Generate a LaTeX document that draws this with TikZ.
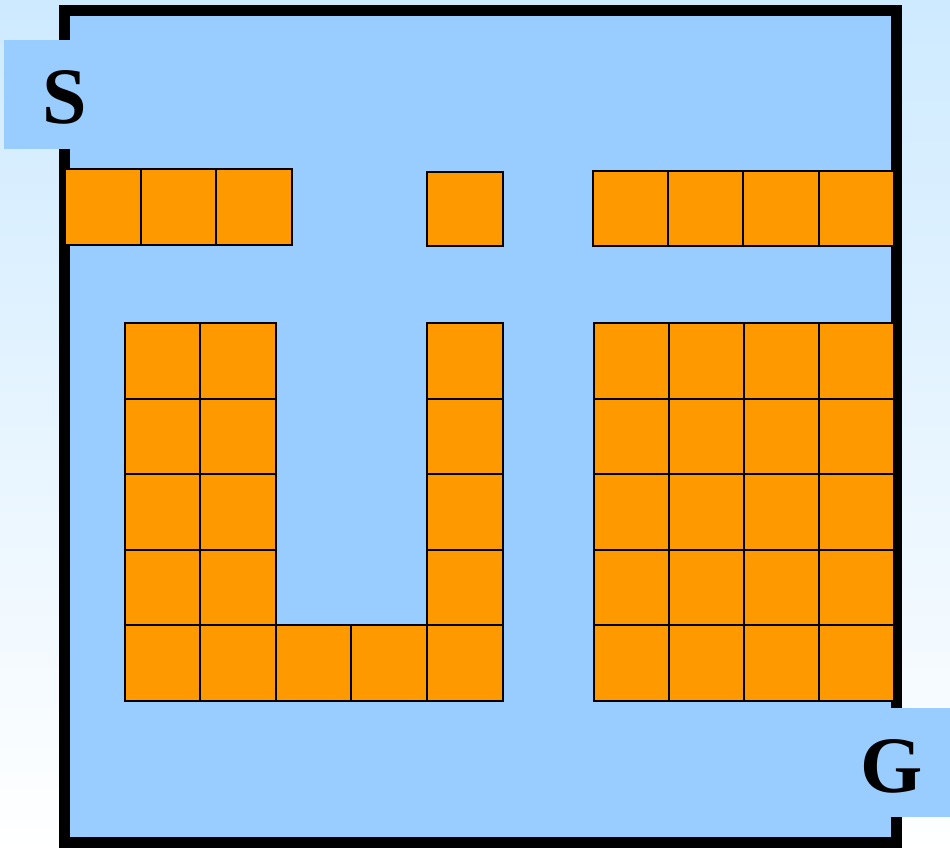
\documentclass[tikz,border=0pt]{standalone}
\usepackage{fontspec}
\setmainfont{Liberation Serif}
\definecolor{bgtop}{RGB}{206,234,255}
\definecolor{fieldblue}{RGB}{153,204,255}
\definecolor{cellorange}{RGB}{255,153,0}
\tikzset{
  cell/.style={fill=cellorange,draw=black,line width=2pt},
  labelbox/.style={fill=fieldblue,draw=none},
  letter/.style={font=\fontsize{80}{80}\selectfont\bfseries,inner sep=0pt}
}
\begin{document}
\begin{tikzpicture}[x=1pt,y=-1pt]
\useasboundingbox (0,0) rectangle (950,850);
% background gradient
\shade[top color=bgtop,bottom color=white,draw=none] (0,0) rectangle (950,850);
% field
\draw[fill=fieldblue,line width=11pt] (64.5,10.5) rectangle (896.5,842.5);
% start and goal boxes
\fill[labelbox] (4,40) rectangle (124,149);
\fill[labelbox] (838,708) rectangle (950,817);
\node[letter] (S) at (65,97) {S};
\node[letter] (G) at (892,766) {G};
% top row left
\foreach \i in {0,1,2} \draw[cell] (65+75.7*\i,169.5) rectangle ++(75.7,75.5);
% top middle
\draw[cell] (427,172) rectangle ++(75.5,74.5);
% top right
\foreach \i in {0,1,2,3} \draw[cell] (592.5+75.4*\i,171.5) rectangle ++(75.4,75);
% left U: two columns
\foreach \i in {0,1} \foreach \j in {0,...,4}
  \draw[cell] (124.5+75.7*\i,323.3+75.5*\j) rectangle ++(75.7,75.5);
% U bottom row
\foreach \i in {2,3,4} \draw[cell] (124.5+75.6*\i,625) rectangle ++(75.6,75.5);
% U right column
\foreach \j in {0,...,3} \draw[cell] (427,323.3+75.4*\j) rectangle ++(75.6,75.4);
% right block
\foreach \i in {0,...,3} \foreach \j in {0,...,4}
  \draw[cell] (594+74.9*\i,323.3+75.5*\j) rectangle ++(74.9,75.5);
\end{tikzpicture}
\end{document}
